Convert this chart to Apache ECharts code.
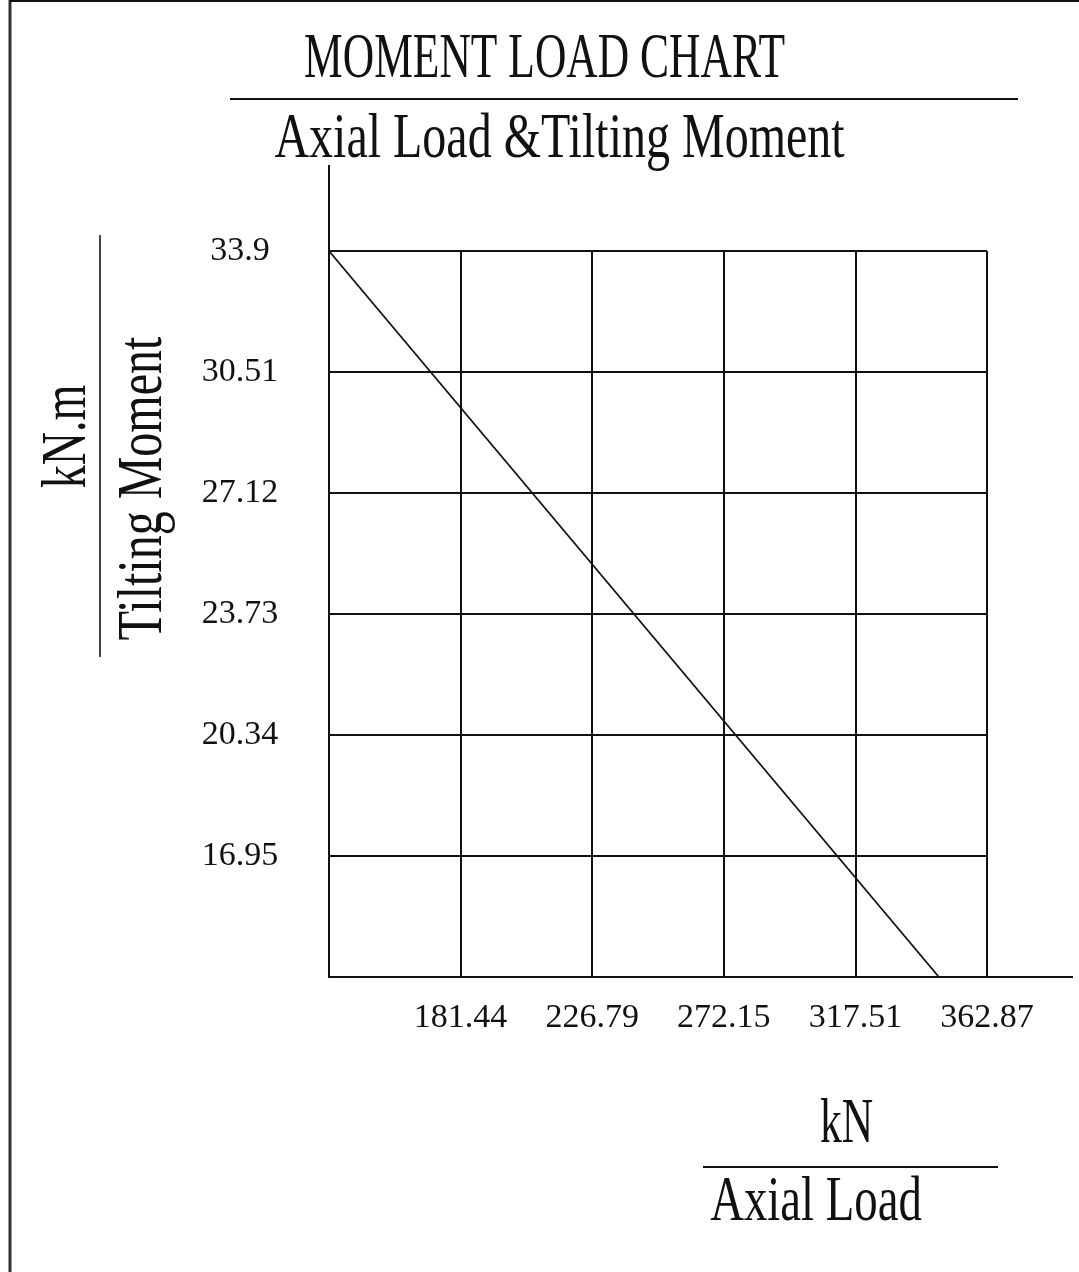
<!DOCTYPE html>
<html>
<head>
<meta charset="utf-8">
<script src="https://cdn.jsdelivr.net/npm/echarts@6/dist/echarts.min.js"></script>
<style>
html,body{margin:0;padding:0;background:#fff;}
#c{width:1079px;height:1272px;}
</style>
</head>
<body>
<div id="c"></div>
<script>
// ---- data ----
const xTickLabels = ['181.44', '226.79', '272.15', '317.51', '362.87'];
const yTickLabels = ['16.95', '20.34', '23.73', '27.12', '30.51', '33.9'];
const xMin = 136.0825, xMax = 362.87, xStep = 45.3575;
const yMin = 13.56, yMax = 33.9, yStep = 3.39;
const axialLoad = [136.08, 346.3];
const tiltingMoment = [33.9, 13.56];

const FONT = '"Liberation Serif", "Times New Roman", serif';
const chart = echarts.init(document.getElementById('c'), null, {renderer: 'canvas'});

function bigText(text, x, y, size, sx, rot) {
  return {
    type: 'text', x: x, y: y, scaleX: sx, rotation: rot || 0, silent: true,
    style: {text: text, x: 0, y: 0, fill: '#111', font: size + 'px ' + FONT,
            textAlign: 'center', textVerticalAlign: 'middle'}
  };
}
function ln(x1, y1, x2, y2, w, c) {
  return {type: 'line', silent: true, shape: {x1: x1, y1: y1, x2: x2, y2: y2},
          style: {stroke: c || '#111', lineWidth: w || 2}};
}

chart.setOption({
  backgroundColor: '#fff',
  animation: false,
  grid: {left: 329, right: 92, top: 251, bottom: 295},
  xAxis: {
    type: 'value', min: xMin, max: xMax, interval: xStep,
    axisLine: {show: true, lineStyle: {color: '#111', width: 2}},
    axisTick: {show: false},
    splitLine: {show: true, lineStyle: {color: '#111', width: 2}},
    axisLabel: {
      margin: 24, color: '#111', fontFamily: FONT, fontSize: 34,
      formatter: function (v) {
        const i = Math.round((v - xMin) / xStep);
        return i > 0 ? (xTickLabels[i - 1] || '') : '';
      }
    }
  },
  yAxis: {
    type: 'value', min: yMin, max: yMax, interval: yStep,
    axisLine: {show: true, lineStyle: {color: '#111', width: 2}},
    axisTick: {show: false},
    splitLine: {show: true, lineStyle: {color: '#111', width: 2}},
    axisLabel: {
      margin: 89, align: 'center', color: '#111', fontFamily: FONT, fontSize: 34,
      padding: [4, 0, 0, 0],
      formatter: function (v) {
        const i = Math.round((v - yMin) / yStep);
        return i > 0 ? (yTickLabels[i - 1] || '') : '';
      }
    }
  },
  series: [{
    type: 'line',
    data: axialLoad.map((x, i) => [x, tiltingMoment[i]]),
    symbol: 'none',
    lineStyle: {color: '#111', width: 1.8},
    clip: false
  }],
  graphic: [
    ln(10, 0, 10, 1272, 3, '#333'),
    ln(10, 1, 1079, 1, 2, '#111'),
    ln(230, 99, 1018, 99, 2),
    ln(329, 165, 329, 251, 2),
    ln(987, 977, 1073, 977, 2),
    ln(100, 235, 100, 657, 2, '#444'),
    ln(703, 1167, 998, 1167, 2),
    bigText('MOMENT LOAD CHART', 544.5, 60.5, 64, 0.68),
    bigText('Axial Load &Tilting Moment', 559.5, 140.5, 64, 0.75),
    bigText('kN', 846.5, 1125.5, 64, 0.68),
    bigText('Axial Load', 816, 1203, 64, 0.73),
    bigText('kN.m', 68.5, 436.5, 64, 0.72, Math.PI / 2),
    bigText('Tilting Moment', 144, 488.5, 64, 0.75, Math.PI / 2)
  ]
});
</script>
</body>
</html>
